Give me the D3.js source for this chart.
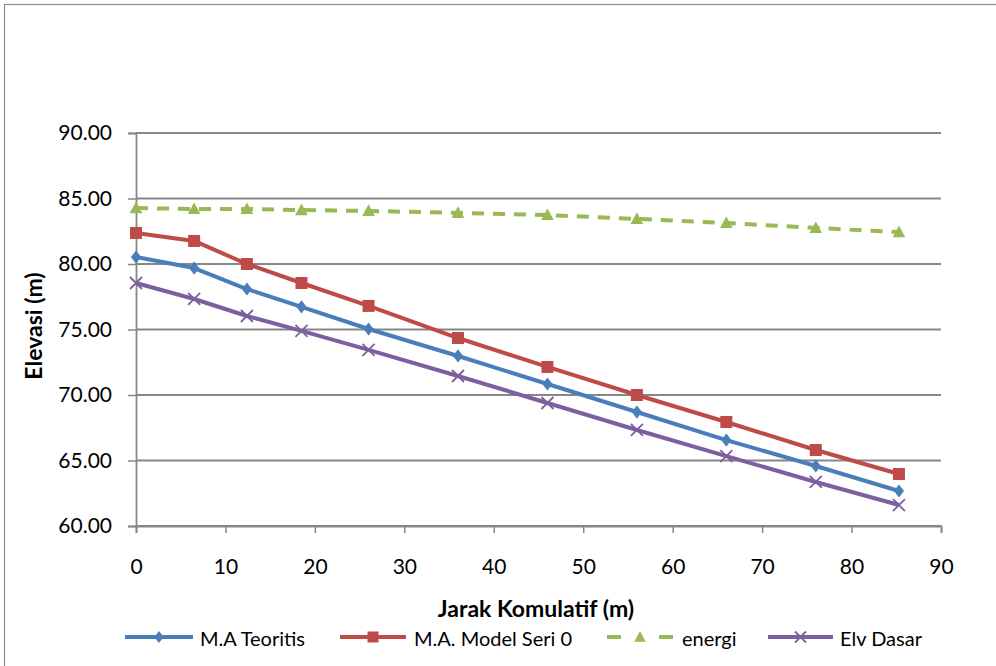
<!DOCTYPE html>
<html>
<head>
<meta charset="utf-8">
<script src="https://cdn.jsdelivr.net/npm/d3@7"></script>
<style>
  html, body { margin: 0; padding: 0; background: #fff; }
  svg { display: block; font-family: Lato, "Open Sans", sans-serif; }
</style>
</head>
<body>
<svg id="chart" width="996" height="666"></svg>
<script>
// Cumulative distance along the channel (m)
const jarak = [0, 6.5, 12.4, 18.5, 26, 36, 46, 56, 66, 76, 85.3];

// Water surface and bed elevations (m)
const maTeoritis = [80.53, 79.69, 78.09, 76.72, 75.04, 72.98, 70.84, 68.70, 66.56, 64.58, 62.67];
const maModelSeri0 = [82.37, 81.76, 80.00, 78.55, 76.80, 74.35, 72.14, 70.00, 67.94, 65.80, 63.97];
const energi = [84.27, 84.20, 84.20, 84.12, 84.05, 83.90, 83.74, 83.44, 83.13, 82.75, 82.44];
const elvDasar = [78.55, 77.33, 76.03, 74.89, 73.44, 71.45, 69.39, 67.33, 65.34, 63.36, 61.60];

const seriesNames = ["M.A Teoritis", "M.A. Model  Seri 0", "energi", "Elv Dasar"];
const xTicks = [0, 10, 20, 30, 40, 50, 60, 70, 80, 90];
const yTicks = [60, 65, 70, 75, 80, 85, 90];

const series = [
  { name: seriesNames[0], values: maTeoritis, color: "#4A7EBB", marker: "diamond", dash: null },
  { name: seriesNames[1], values: maModelSeri0, color: "#BE4B48", marker: "square", dash: null },
  { name: seriesNames[2], values: energi, color: "#98B954", marker: "triangle", dash: "12,9" },
  { name: seriesNames[3], values: elvDasar, color: "#7D5FA0", marker: "x", dash: null }
];

const svg = d3.select("#chart");
const plotLeft = 136, plotRight = 941, plotTop = 133, plotBottom = 526;

// outer chart frame
svg.append("rect")
  .attr("x", 4.5).attr("y", 4.5).attr("width", 1000).attr("height", 700)
  .attr("fill", "#fff").attr("stroke", "#8c8c8c").attr("stroke-width", 1.2);

const x = d3.scaleLinear().domain([0, 90]).range([plotLeft, plotRight]);
const y = d3.scaleLinear().domain([60, 90]).range([plotBottom, plotTop]);

// horizontal gridlines
svg.append("g")
  .selectAll("line")
  .data(yTicks)
  .join("line")
  .attr("x1", plotLeft).attr("x2", plotRight)
  .attr("y1", d => y(d)).attr("y2", d => y(d))
  .attr("stroke", "#878787").attr("stroke-width", 1.8);

// y axis
const yAxis = svg.append("g")
  .attr("transform", `translate(${plotLeft},0)`)
  .call(d3.axisLeft(y).tickValues(yTicks).tickFormat(d3.format(".2f")).tickSize(8).tickPadding(16));
yAxis.select(".domain").attr("stroke", "#878787").attr("stroke-width", 1.8);
yAxis.selectAll(".tick line").attr("stroke", "#878787").attr("stroke-width", 1.5);
yAxis.selectAll(".tick text").attr("font-size", 21).attr("fill", "#000")
  .attr("font-family", "Lato, sans-serif");

// x axis
const xAxis = svg.append("g")
  .attr("transform", `translate(0,${plotBottom})`)
  .call(d3.axisBottom(x).tickValues(xTicks).tickFormat(d3.format("d")).tickSize(7).tickPadding(26));
xAxis.select(".domain").attr("stroke", "#878787").attr("stroke-width", 1.8);
xAxis.selectAll(".tick line").attr("stroke", "#878787").attr("stroke-width", 1.5);
xAxis.selectAll(".tick text").attr("font-size", 21).attr("fill", "#000")
  .attr("font-family", "Lato, sans-serif");

// axis titles
svg.append("text")
  .attr("transform", `translate(42,326) rotate(-90)`)
  .attr("text-anchor", "middle")
  .attr("font-size", 23).attr("font-weight", "bold")
  .text("Elevasi (m)");
svg.append("text")
  .attr("x", 536).attr("y", 617)
  .attr("text-anchor", "middle")
  .attr("font-size", 23).attr("font-weight", "bold")
  .text("Jarak Komulatif (m)");

function drawMarker(g, type, cx, cy, color, s) {
  if (type === "diamond") {
    g.append("path")
      .attr("d", `M${cx},${cy - s * 1.1}L${cx + s * 0.85},${cy}L${cx},${cy + s * 1.1}L${cx - s * 0.85},${cy}Z`)
      .attr("fill", color);
  } else if (type === "square") {
    g.append("rect")
      .attr("x", cx - s).attr("y", cy - s).attr("width", 2 * s).attr("height", 2 * s)
      .attr("fill", color);
  } else if (type === "triangle") {
    g.append("path")
      .attr("d", `M${cx},${cy - s * 1.1}L${cx + s * 1.05},${cy + s * 0.85}L${cx - s * 1.05},${cy + s * 0.85}Z`)
      .attr("fill", color);
  } else if (type === "x") {
    g.append("path")
      .attr("d", `M${cx - s},${cy - s}L${cx + s},${cy + s}M${cx - s},${cy + s}L${cx + s},${cy - s}`)
      .attr("stroke", color).attr("stroke-width", 1.8).attr("fill", "none");
  }
}

const line = d3.line().x(d => x(d[0])).y(d => y(d[1]));

series.forEach(s => {
  const pts = jarak.map((j, i) => [j, s.values[i]]);
  const g = svg.append("g");
  g.append("path")
    .datum(pts)
    .attr("d", line)
    .attr("fill", "none")
    .attr("stroke", s.color)
    .attr("stroke-width", 4)
    .attr("stroke-linejoin", "round")
    .attr("stroke-dasharray", s.dash);
  pts.forEach(p => drawMarker(g, s.marker, x(p[0]), y(p[1]), s.color, 6));
});

// legend
const legendItems = [
  { x0: 125, x1: 193, tx: 200 },
  { x0: 340, x1: 406, tx: 414 },
  { x0: 607, x1: 673, tx: 682 },
  { x0: 768, x1: 833, tx: 840 }
];
const ly = 637;
series.forEach((s, i) => {
  const li = legendItems[i];
  const mid = (li.x0 + li.x1) / 2;
  const g = svg.append("g");
  if (s.dash) {
    g.append("line").attr("x1", li.x0).attr("x2", li.x0 + 14).attr("y1", ly).attr("y2", ly)
      .attr("stroke", s.color).attr("stroke-width", 4);
    g.append("line").attr("x1", li.x1 - 14).attr("x2", li.x1).attr("y1", ly).attr("y2", ly)
      .attr("stroke", s.color).attr("stroke-width", 4);
  } else {
    g.append("line").attr("x1", li.x0).attr("x2", li.x1).attr("y1", ly).attr("y2", ly)
      .attr("stroke", s.color).attr("stroke-width", 4);
  }
  drawMarker(g, s.marker, mid, ly, s.color, 5.5);
  g.append("text").attr("x", li.tx).attr("y", 646)
    .attr("font-size", 20).attr("fill", "#000")
    .text(s.name);
});
</script>
</body>
</html>
